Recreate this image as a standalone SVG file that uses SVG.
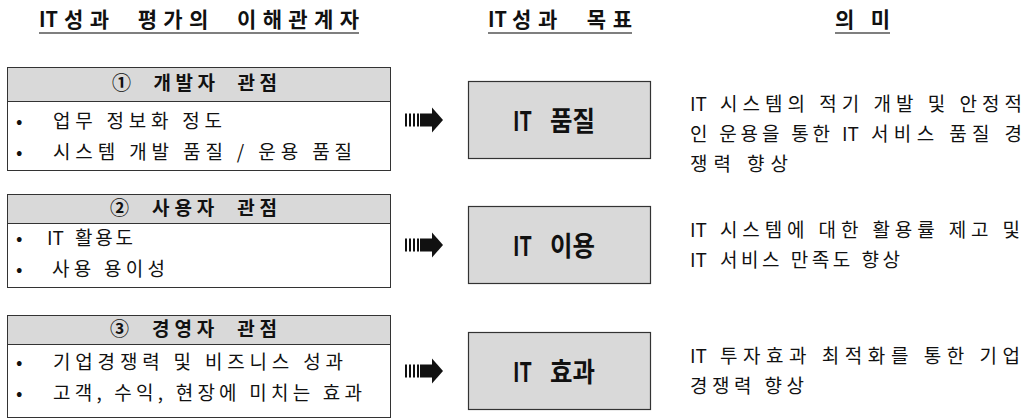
<svg xmlns="http://www.w3.org/2000/svg" width="1033" height="420" viewBox="0 0 1033 420">
<style>
text{font-family:"Noto Sans CJK KR","Noto Sans",sans-serif;fill:#111;white-space:pre}
.title{font-size:21px;font-weight:700}
.hdr{font-size:19px;font-weight:700}
.body{font-size:19px}
.tgt{font-size:27px;font-weight:700}
.ul{stroke:#7f7f7f;stroke-width:2}
.box{fill:#fff;stroke:#333;stroke-width:1}
.band{fill:#d9d9d9;stroke:#333;stroke-width:1}
.tbox{fill:#d9d9d9;stroke:#333;stroke-width:1.2}
</style>
<defs>
<g id="arrow">
<rect x="0" y="-6.5" width="2" height="13" fill="#111"/>
<rect x="4" y="-6.5" width="2" height="13" fill="#111"/>
<rect x="8" y="-6.5" width="2" height="13" fill="#111"/>
<rect x="12" y="-6.5" width="2" height="13" fill="#111"/>
<rect x="15" y="-6.5" width="13" height="13" fill="#111"/>
<polygon points="27,-12.5 38,0 27,12.5" fill="#111"/>
</g>
</defs>
<rect width="1033" height="420" fill="#fff"/>
<g id="titles">
<text class="title" x="39" y="27" textLength="19" lengthAdjust="spacingAndGlyphs">IT</text>
<text class="title" x="64" y="27" textLength="295" lengthAdjust="spacing">성과  평가의  이해관계자</text>
<line class="ul" x1="39" y1="33" x2="359" y2="33"/>
<text class="title" x="488" y="27" textLength="19" lengthAdjust="spacingAndGlyphs">IT</text>
<text class="title" x="512" y="27" textLength="120" lengthAdjust="spacing">성과  목표</text>
<line class="ul" x1="488" y1="33" x2="632" y2="33"/>
<text class="title" x="835" y="27" textLength="55" lengthAdjust="spacing">의미</text>
<line class="ul" x1="835" y1="33" x2="890" y2="33"/>
</g>
<g id="stakeholder-developer">
<rect class="box" x="7.5" y="67.5" width="383" height="103"/>
<rect class="band" x="7.5" y="67.5" width="383" height="34"/>
<text class="hdr" x="112" y="90" textLength="165" lengthAdjust="spacing">①  개발자  관점</text>
<text class="body" x="16" y="128">•</text>
<text class="body" x="53" y="128" textLength="169" lengthAdjust="spacing">업무 정보화 정도</text>
<text class="body" x="16" y="159">•</text>
<text class="body" x="53" y="159" textLength="299" lengthAdjust="spacing">시스템 개발 품질 / 운용 품질</text>
</g>
<g id="stakeholder-user">
<rect class="box" x="7.5" y="194.5" width="383" height="93"/>
<rect class="band" x="7.5" y="194.5" width="383" height="29"/>
<text class="hdr" x="110" y="215" textLength="167" lengthAdjust="spacing">②  사용자  관점</text>
<text class="body" x="16" y="245">•</text>
<text class="body" x="47" y="245">IT</text>
<text class="body" x="75" y="245" textLength="58" lengthAdjust="spacing">활용도</text>
<text class="body" x="16" y="276">•</text>
<text class="body" x="52" y="276" textLength="113" lengthAdjust="spacing">사용 용이성</text>
</g>
<g id="stakeholder-manager">
<rect class="box" x="7.5" y="315.5" width="383" height="102"/>
<rect class="band" x="7.5" y="315.5" width="383" height="29"/>
<text class="hdr" x="110" y="336" textLength="167" lengthAdjust="spacing">③  경영자  관점</text>
<text class="body" x="16" y="369">•</text>
<text class="body" x="53" y="369" textLength="290" lengthAdjust="spacing">기업경쟁력 및 비즈니스 성과</text>
<text class="body" x="16" y="400">•</text>
<text class="body" x="53" y="400" textLength="309" lengthAdjust="spacing">고객, 수익, 현장에 미치는 효과</text>
</g>
<g id="connectors">
<use href="#arrow" x="405" y="120"/>
<use href="#arrow" x="405" y="245"/>
<use href="#arrow" x="405" y="371"/>
</g>
<g id="goal-quality">
<rect class="tbox" x="468.5" y="81.5" width="182" height="77"/>
<text class="tgt" x="513" y="131" textLength="19" lengthAdjust="spacingAndGlyphs">IT</text>
<text class="tgt" x="550" y="131" textLength="45" lengthAdjust="spacingAndGlyphs">품질</text>
</g>
<g id="goal-usage">
<rect class="tbox" x="468.5" y="206.5" width="182" height="77"/>
<text class="tgt" x="513" y="256" textLength="19" lengthAdjust="spacingAndGlyphs">IT</text>
<text class="tgt" x="550" y="256" textLength="45" lengthAdjust="spacingAndGlyphs">이용</text>
</g>
<g id="goal-effect">
<rect class="tbox" x="468.5" y="332.5" width="182" height="77"/>
<text class="tgt" x="513" y="382" textLength="19" lengthAdjust="spacingAndGlyphs">IT</text>
<text class="tgt" x="550" y="382" textLength="45" lengthAdjust="spacingAndGlyphs">효과</text>
</g>
<g id="meanings">
<text class="body" x="690" y="111">IT</text>
<text class="body" x="720" y="111" textLength="302" lengthAdjust="spacing">시스템의 적기 개발 및 안정적</text>
<text class="body" x="690" y="141" textLength="140" lengthAdjust="spacing">인 운용을 통한</text>
<text class="body" x="842" y="141">IT</text>
<text class="body" x="871" y="141" textLength="151" lengthAdjust="spacing">서비스 품질 경</text>
<text class="body" x="690" y="171" textLength="98" lengthAdjust="spacing">쟁력 향상</text>
<text class="body" x="690" y="237">IT</text>
<text class="body" x="720" y="237" textLength="300" lengthAdjust="spacing">시스템에 대한 활용률 제고 및</text>
<text class="body" x="690" y="267">IT</text>
<text class="body" x="720" y="267" textLength="180" lengthAdjust="spacing">서비스 만족도 향상</text>
<text class="body" x="690" y="363">IT</text>
<text class="body" x="720" y="363" textLength="300" lengthAdjust="spacing">투자효과 최적화를 통한 기업</text>
<text class="body" x="690" y="393" textLength="114" lengthAdjust="spacing">경쟁력 향상</text>
</g>
</svg>
